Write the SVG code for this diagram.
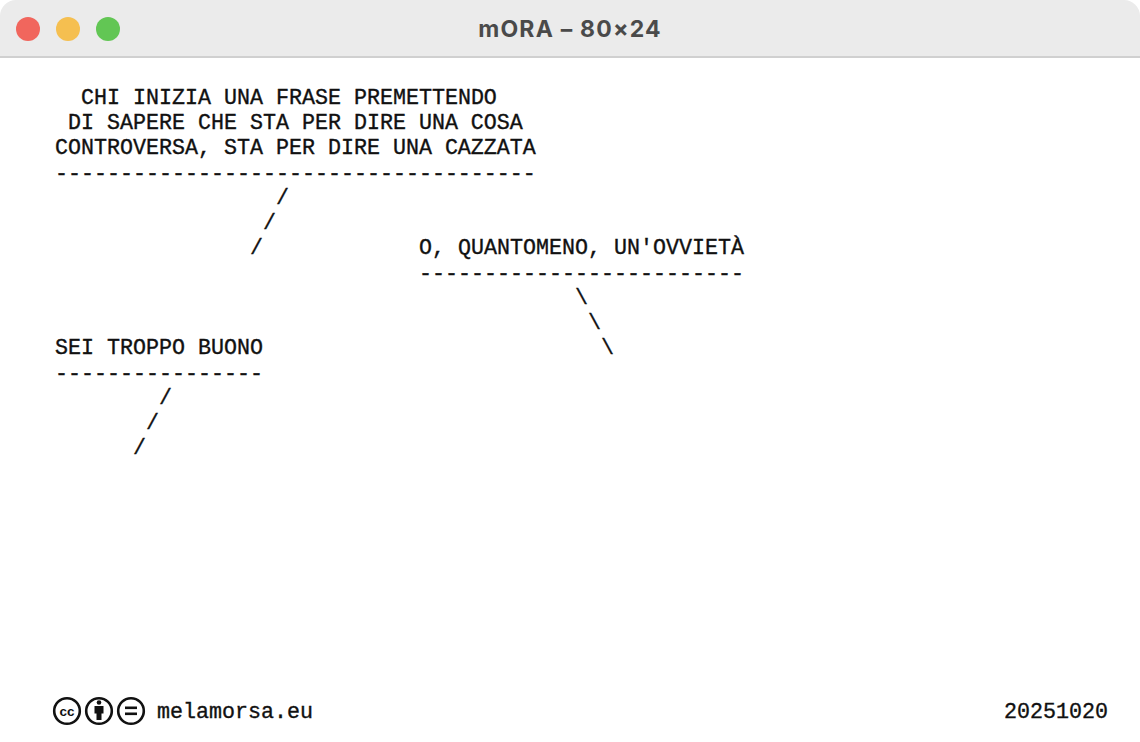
<svg xmlns="http://www.w3.org/2000/svg" width="1140" height="742" viewBox="0 0 1140 742">
<style>
.t{font-family:"Liberation Mono","DejaVu Sans Mono",monospace;font-size:21.67px;fill:#111;stroke:#111;stroke-width:0.35px}
.title{font-family:Inter,"Liberation Sans",sans-serif;font-size:23px;font-weight:700;fill:#4a4a4a;letter-spacing:1.2px}
.cc{fill:none;stroke:#111;stroke-width:2.6}
</style>
<rect x="0" y="0" width="1140" height="742" fill="#ffffff"/>
<g id="titlebar">
<path d="M16 0 H1124 A16 16 0 0 1 1140 16 V57 H0 V16 A16 16 0 0 1 16 0 Z" fill="#ebebeb"/>
<rect x="0" y="56" width="1140" height="2" fill="#d0d0d0"/>
<circle cx="28" cy="29" r="12" fill="#f1665d"/>
<circle cx="68" cy="29" r="12" fill="#f5bf50"/>
<circle cx="108" cy="29" r="12" fill="#62c654"/>
<text class="title" x="570" y="37" text-anchor="middle">mORA – 80×24</text>
</g>
<g id="node-main">
<text class="t" x="81" y="104">CHI INIZIA UNA FRASE PREMETTENDO</text>
<text class="t" x="68" y="129">DI SAPERE CHE STA PER DIRE UNA COSA</text>
<text class="t" x="55" y="154">CONTROVERSA, STA PER DIRE UNA CAZZATA</text>
<text class="t" x="55" y="180">-------------------------------------</text>
</g>
<g id="node-ovvieta">
<text class="t" x="419" y="254">O, QUANTOMENO, UN'OVVIETÀ</text>
<text class="t" x="419" y="280">-------------------------</text>
</g>
<g id="node-buono">
<text class="t" x="55" y="354">SEI TROPPO BUONO</text>
<text class="t" x="55" y="380">----------------</text>
</g>
<g id="connectors">
<text class="t" x="276" y="204">/</text>
<text class="t" x="263" y="229">/</text>
<text class="t" x="250" y="254">/</text>
<text class="t" x="575" y="304">\</text>
<text class="t" x="588" y="329">\</text>
<text class="t" x="601" y="354">\</text>
<text class="t" x="159" y="404">/</text>
<text class="t" x="146" y="429">/</text>
<text class="t" x="133" y="454">/</text>
</g>
<g id="footer">
<circle class="cc" cx="67" cy="711" r="12.8"/>
<text x="67" y="716" text-anchor="middle" style="font-family:'Liberation Sans',sans-serif;font-size:13.5px;font-weight:700;fill:#111">cc</text>
<circle class="cc" cx="99" cy="711" r="12.8"/>
<circle cx="99" cy="702.5" r="2.3" fill="#111"/>
<path d="M94.5 706 H103.5 V713.5 H101.5 V720 H96.5 V713.5 H94.5 Z" fill="#111"/>
<circle class="cc" cx="131" cy="711" r="12.8"/>
<rect x="125" y="706.5" width="12" height="2.6" fill="#111"/>
<rect x="125" y="712.5" width="12" height="2.6" fill="#111"/>
<text class="t" x="157" y="718">melamorsa.eu</text>
<text class="t" x="1108" y="718" text-anchor="end">20251020</text>
</g>
</svg>
